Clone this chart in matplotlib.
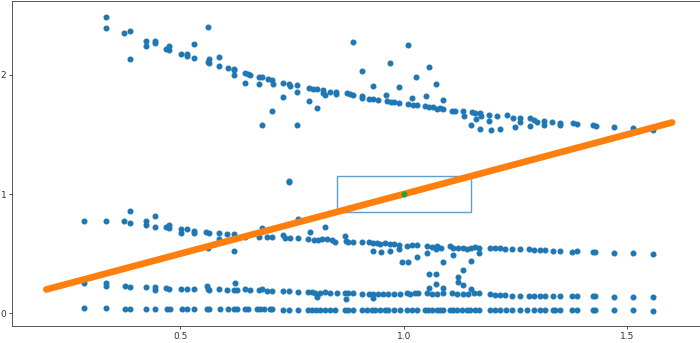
import numpy as np
import matplotlib
matplotlib.use("Agg")
import matplotlib.pyplot as plt
from matplotlib.patches import Rectangle

# upper cluster
top_x = [0.333, 0.333, 0.375, 0.387, 0.387, 0.424, 0.424, 0.443, 0.443,
         0.468, 0.475, 0.475, 0.502, 0.515, 0.515, 0.531, 0.531,
         0.561, 0.561, 0.565, 0.565, 0.587, 0.587,
         0.606, 0.619, 0.621, 0.621, 0.645, 0.645, 0.652, 0.656,
         0.675, 0.675, 0.682, 0.697, 0.705, 0.708, 0.705, 0.682,
         0.730, 0.730, 0.742, 0.746, 0.762, 0.762, 0.762,
         0.788, 0.796, 0.805, 0.788, 0.805, 0.819, 0.820, 0.824,
         0.835, 0.848, 0.848, 0.872, 0.880, 0.887,
         0.886, 0.906, 0.906, 0.906, 0.921, 0.932, 0.943, 0.932,
         0.960, 0.962, 0.968, 0.971, 0.978, 0.990, 0.990,
         1.009, 1.010, 1.018, 1.020, 1.029, 1.027, 1.047, 1.050, 1.056, 1.057,
         1.066, 1.071, 1.074, 1.081, 1.088, 1.088,
         1.107, 1.115, 1.133, 1.135, 1.152, 1.159, 1.171,
         1.150, 1.162, 1.171, 1.173, 1.191, 1.191, 1.194, 1.208, 1.215,
         1.230, 1.245, 1.260, 1.249, 1.260, 1.282, 1.290, 1.282, 1.297,
         1.314, 1.314, 1.331, 1.349, 1.349, 1.378, 1.388,
         1.424, 1.430, 1.469, 1.513, 1.558]
top_y = [2.486, 2.389, 2.350, 2.364, 2.129, 2.285, 2.241, 2.282, 2.263,
         2.215, 2.243, 2.210, 2.176, 2.176, 2.154, 2.260, 2.137,
         2.402, 2.109, 2.132, 2.096, 2.151, 2.073,
         2.056, 2.048, 2.037, 1.995, 2.012, 1.933, 2.006, 1.997,
         1.983, 1.925, 1.981, 1.964, 1.958, 1.920, 1.693, 1.576,
         1.933, 1.811, 1.925, 1.908, 1.911, 1.855, 1.576,
         1.891, 1.878, 1.883, 1.780, 1.718, 1.872, 1.844, 1.830,
         1.858, 1.858, 1.838, 1.849, 1.836, 1.827,
         2.274, 2.034, 1.824, 1.805, 1.796, 1.796, 1.790, 1.905,
         1.827, 1.782, 2.098, 1.774, 1.771, 1.765, 1.899,
         2.246, 1.754, 1.802, 1.746, 1.743, 1.983, 1.738, 1.824, 2.062, 1.732,
         1.727, 1.922, 1.715, 1.724, 1.785, 1.712,
         1.698, 1.693, 1.698, 1.654, 1.687, 1.676, 1.681,
         1.578, 1.626, 1.542, 1.654, 1.662, 1.614, 1.536, 1.654, 1.545,
         1.662, 1.635, 1.635, 1.564, 1.606, 1.635, 1.620, 1.570, 1.606,
         1.614, 1.578, 1.606, 1.598, 1.578, 1.593, 1.584,
         1.578, 1.572, 1.564, 1.553, 1.536]

# middle cluster
mid_x = [0.285, 0.334, 0.375, 0.387, 0.387, 0.423, 0.423, 0.443, 0.443,
         0.468, 0.475, 0.475, 0.501, 0.501, 0.514, 0.531, 0.531,
         0.558, 0.565, 0.561, 0.587, 0.587, 0.604, 0.619, 0.620,
         0.645, 0.682, 0.675, 0.693, 0.705,
         0.730, 0.734, 0.743, 0.743, 0.746, 0.764, 0.764,
         0.789, 0.786, 0.798, 0.809, 0.816, 0.824, 0.828, 0.839, 0.846,
         0.868, 0.871, 0.876, 0.887,
         0.906, 0.921, 0.932, 0.932, 0.939, 0.947, 0.948, 0.958, 0.968, 0.968,
         0.977, 0.990, 0.990, 1.007, 1.018, 1.029,
         0.995, 1.009, 1.029,
         1.051, 1.062, 1.074, 1.082, 1.051, 1.072,
         1.088, 1.103, 1.111, 1.111, 1.122,
         1.133, 1.141, 1.150, 1.159, 1.169, 1.169, 1.150,
         1.193, 1.204, 1.215, 1.226, 1.241, 1.260,
         1.279, 1.290, 1.305, 1.316, 1.333, 1.349, 1.376, 1.388,
         1.422, 1.428, 1.469, 1.513, 1.558]
mid_y = [0.776, 0.776, 0.774, 0.860, 0.754, 0.771, 0.743, 0.816, 0.726,
         0.726, 0.738, 0.718, 0.704, 0.676, 0.704, 0.690, 0.676,
         0.681, 0.676, 0.545, 0.671, 0.623, 0.662, 0.662, 0.525,
         0.642, 0.712, 0.637, 0.642, 0.637,
         0.656, 0.629, 1.111, 1.104, 0.629, 0.629, 0.788,
         0.679, 0.620, 0.614, 0.614, 0.620, 0.721, 0.620, 0.614, 0.600,
         0.650, 0.609, 0.595, 0.600,
         0.595, 0.595, 0.587, 0.525, 0.587, 0.581, 0.516, 0.587, 0.581, 0.525,
         0.581, 0.573, 0.536, 0.567, 0.573, 0.573,
         0.427, 0.433, 0.469,
         0.567, 0.558, 0.564, 0.550, 0.503, 0.536,
         0.427, 0.564, 0.550, 0.489, 0.545,
         0.550, 0.536, 0.550, 0.558, 0.550, 0.503, 0.441,
         0.545, 0.545, 0.545, 0.539, 0.539, 0.539,
         0.539, 0.531, 0.531, 0.531, 0.525, 0.522, 0.516, 0.522,
         0.511, 0.511, 0.508, 0.503, 0.500]

# stray points between the middle and lower clusters
gap_x = [1.056, 1.071, 1.120, 1.133, 1.071, 1.120, 1.057, 1.088, 1.133, 1.150]
gap_y = [0.329, 0.327, 0.307, 0.360, 0.246, 0.262, 0.215, 0.210, 0.237, 0.201]

# lower cluster
low_x = [0.285, 0.334, 0.334, 0.376, 0.387, 0.423, 0.443, 0.443, 0.468, 0.475,
         0.501, 0.514, 0.531, 0.559, 0.561, 0.565, 0.587, 0.604, 0.619, 0.622, 0.626,
         0.645, 0.656, 0.675, 0.682, 0.693, 0.705,
         0.730, 0.742, 0.764, 0.786, 0.794, 0.805,
         0.801, 0.813, 0.824, 0.835, 0.850,
         0.868, 0.871, 0.876, 0.887, 0.906, 0.921,
         0.930, 0.932, 0.942, 0.953, 0.965, 0.977,
         0.992, 1.007, 1.014, 1.025, 1.032,
         1.051, 1.062, 1.074, 1.088, 1.107, 1.118,
         1.133, 1.144, 1.156, 1.169,
         1.193, 1.204, 1.215, 1.226, 1.241, 1.260,
         1.279, 1.290, 1.305, 1.316, 1.333, 1.349, 1.376, 1.388,
         1.422, 1.428, 1.469, 1.513, 1.558]
low_y = [0.251, 0.251, 0.229, 0.229, 0.218, 0.218, 0.218, 0.195, 0.210, 0.206,
         0.201, 0.201, 0.201, 0.229, 0.201, 0.195, 0.201, 0.195, 0.195, 0.256, 0.195,
         0.201, 0.195, 0.195, 0.201, 0.189, 0.189,
         0.189, 0.187, 0.181, 0.181, 0.181, 0.139,
         0.173, 0.173, 0.179, 0.173, 0.168,
         0.168, 0.122, 0.173, 0.168, 0.162, 0.162,
         0.162, 0.126, 0.162, 0.162, 0.159, 0.159,
         0.159, 0.168, 0.159, 0.168, 0.168,
         0.168, 0.162, 0.162, 0.168, 0.168, 0.162,
         0.162, 0.162, 0.168, 0.173,
         0.159, 0.153, 0.153, 0.153, 0.148, 0.148,
         0.148, 0.145, 0.145, 0.145, 0.145, 0.145, 0.145, 0.145,
         0.145, 0.145, 0.139, 0.139, 0.139]

# bottom cluster
base_x = [0.285, 0.334, 0.376, 0.387, 0.424, 0.443, 0.470, 0.476, 0.503, 0.514,
          0.531, 0.559, 0.565, 0.589, 0.606, 0.619, 0.626,
          0.645, 0.652, 0.671, 0.678, 0.686, 0.701, 0.705, 0.730, 0.742, 0.764,
          0.786, 0.794, 0.804, 0.813, 0.824, 0.835, 0.846, 0.868, 0.876, 0.887,
          0.906, 0.917, 0.928, 0.936, 0.947, 0.958, 0.965, 0.977, 0.992, 1.007,
          1.018, 1.029,
          1.047, 1.055, 1.062, 1.074, 1.081, 1.088, 1.103, 1.111, 1.118, 1.129,
          1.141, 1.148, 1.159, 1.169, 1.193, 1.204, 1.215, 1.229, 1.241, 1.260,
          1.275, 1.290, 1.305, 1.316,
          1.333, 1.338, 1.349, 1.376, 1.388, 1.422, 1.428, 1.469, 1.513, 1.558]
base_y = [0.046, 0.042, 0.040, 0.039, 0.038, 0.038, 0.037, 0.037, 0.036, 0.036,
          0.036, 0.035, 0.035, 0.035, 0.034, 0.034, 0.034,
          0.034, 0.034, 0.033, 0.033, 0.033, 0.033, 0.033, 0.032, 0.032, 0.032,
          0.031, 0.031, 0.031, 0.031, 0.031, 0.030, 0.030, 0.030, 0.030, 0.030,
          0.030, 0.029, 0.029, 0.029, 0.029, 0.029, 0.029, 0.029, 0.028, 0.028,
          0.028, 0.028,
          0.028, 0.028, 0.028, 0.028, 0.027, 0.027, 0.027, 0.027, 0.027, 0.027,
          0.027, 0.027, 0.027, 0.026, 0.026, 0.026, 0.026, 0.026, 0.026, 0.026,
          0.026, 0.026, 0.025, 0.025,
          0.025, 0.025, 0.025, 0.025, 0.025, 0.024, 0.024, 0.024, 0.024, 0.023]

# reference line, window and its centre
line_x = [0.2, 1.6]
line_y = [0.2, 1.6]
box_corner = (0.85, 0.85)
box_size = 0.3
centre = (1.0, 1.0)

plt.rcParams["font.size"] = 6.5
plt.rcParams["axes.linewidth"] = 0.7
plt.rcParams["axes.edgecolor"] = "#555555"

fig = plt.figure(figsize=(7, 3.43), dpi=100)
ax = fig.add_axes([12.3 / 700, 17 / 343, 693.3 / 700, 325 / 343])

xs = np.concatenate([top_x, mid_x, gap_x, low_x, base_x])
ys = np.concatenate([top_y, mid_y, gap_y, low_y, base_y])
ax.scatter(xs, ys, s=11, color="C0", zorder=2)

ax.add_patch(Rectangle(box_corner, box_size, box_size, fill=False,
                       edgecolor="C0", alpha=0.7, lw=1.0, zorder=3))
ax.plot(line_x, line_y, color="C1", lw=4.8, solid_capstyle="round", zorder=4)
ax.scatter([centre[0]], [centre[1]], s=11, color="C2", zorder=5)

ax.set_xlim(0.124, 1.675)
ax.set_ylim(-0.106, 2.618)
ax.set_xticks([0.5, 1.0, 1.5])
ax.set_yticks([0, 1, 2])
ax.tick_params(length=2.3, width=0.6, pad=2, colors="#333333")

fig.savefig("out.png", dpi=100)
